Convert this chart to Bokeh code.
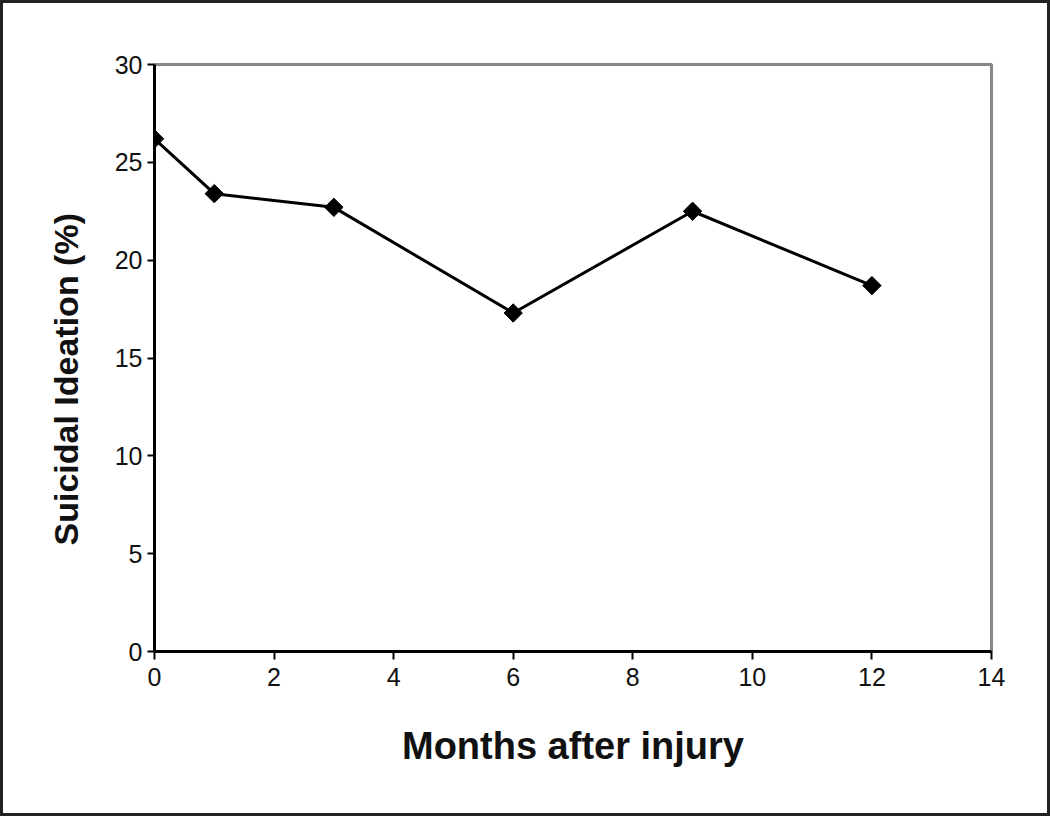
import math
from bokeh.plotting import figure
from bokeh.models import Range1d, FixedTicker, Title
from bokeh.embed import file_html
from bokeh.resources import INLINE

months = [0, 1, 3, 6, 9, 12]
ideation = [26.2, 23.4, 22.7, 17.3, 22.5, 18.7]
x_ticks = [0, 2, 4, 6, 8, 10, 12, 14]
y_ticks = [0, 5, 10, 15, 20, 25, 30]
x_title = "Months after injury"
y_title = "Suicidal Ideation (%)"

p = figure(width=1050, height=816, output_backend="svg", toolbar_location=None,
           x_range=Range1d(0, 14), y_range=Range1d(0, 30))
p.min_border_left = 151
p.min_border_right = 62
p.min_border_top = 61
p.min_border_bottom = 168
p.xgrid.visible = False
p.ygrid.visible = False
p.background_fill_color = "white"
p.border_fill_color = "white"
p.outline_line_color = "#888888"
p.outline_line_width = 3
p.styles = {"border": "3px solid #222222"}

font = "Liberation Sans"
for ax in (p.xaxis[0], p.yaxis[0]):
    ax.axis_line_color = "black"
    ax.axis_line_width = 3
    ax.major_tick_line_color = "black"
    ax.major_tick_line_width = 2
    ax.major_tick_in = 0
    ax.minor_tick_line_color = None
    ax.major_label_text_font = font
    ax.major_label_text_font_size = "25px"
    ax.major_label_text_color = "#111111"
    ax.axis_label_text_font = font
    ax.axis_label_text_font_style = "bold"
    ax.axis_label_text_color = "#111111"

p.xaxis.ticker = FixedTicker(ticks=x_ticks)
p.yaxis.ticker = FixedTicker(ticks=y_ticks)
p.xaxis.major_tick_out = 8
p.yaxis.major_tick_out = 7
p.xaxis.major_label_standoff = 8
p.yaxis.major_label_standoff = 5
p.xaxis.axis_label = x_title
p.xaxis.axis_label_text_font_size = "38px"
p.xaxis.axis_label_standoff = 36

p.add_layout(Title(text=y_title, align="left", offset=106, standoff=53,
                   text_font=font, text_font_style="bold", text_font_size="34px",
                   text_color="#111111"), "left")

p.line(months, ideation, line_color="black", line_width=3)
p.scatter(months, ideation, marker="square", angle=math.pi / 4, size=13,
          fill_color="black", line_color="black")

open("out.html", "w").write(file_html(p, INLINE))
